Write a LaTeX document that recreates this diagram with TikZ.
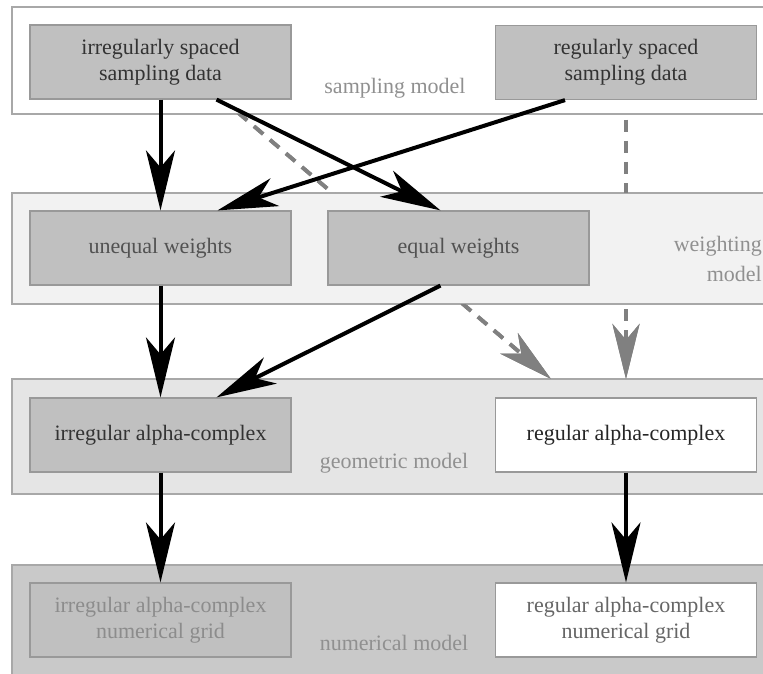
\documentclass[tikz,border=0pt]{standalone}
\usepackage{fontspec}
\setmainfont{Liberation Serif}
\usetikzlibrary{arrows.meta}
\definecolor{boxfill}{HTML}{C0C0C0}
\definecolor{boxline}{HTML}{999999}
\definecolor{grpline}{HTML}{A8A8A8}
\definecolor{lblgray}{HTML}{909090}
\definecolor{dashgray}{HTML}{808080}
\begin{document}
\begin{tikzpicture}[x=1pt,y=-1pt,
  group/.style={draw=grpline, line width=1.2pt},
  box/.style={draw=boxline, line width=1.2pt, minimum width=261pt, minimum height=74pt, inner sep=0pt, align=center, font=\fontsize{22}{26}\selectfont},
  graybox/.style={box, fill=boxfill},
  whitebox/.style={box, fill=white},
  grplabel/.style={text=lblgray, font=\fontsize{22}{30}\selectfont, inner sep=0pt},
  solidarrow/.style={line width=4pt, black, -{Stealth[length=60pt, width=29pt, inset=17pt]}},
  dasharrow/.style={line width=3.8pt, dashgray, dash pattern=on 12pt off 9pt, -{Stealth[length=55pt, width=27pt, inset=16pt]}}
]
\useasboundingbox (0,0) rectangle (763,674);
\fill[white] (0,0) rectangle (763,674);

% dashed arrows (behind group panels)
\coordinate (d1s) at (222,99);
\coordinate (d1e) at (551,379);
\coordinate (d2s) at (626,99);
\coordinate (d2e) at (626,379);
\draw[dasharrow] (d1s) -- (d1e);
\draw[dasharrow] (d2s) -- (d2e);

% group panels
\path[group, fill=white] (12,7) rectangle (780,114);
\path[group, fill=black!5] (12,193) rectangle (780,304);
\path[group, fill=black!10] (12,379) rectangle (780,494);
\path[group, fill=black!21] (12,565) rectangle (780,690);

% visible dashed parts between the panels
\begin{scope}
\clip (0,114.6) rectangle (763,192.4);
\draw[dasharrow, -] (d1s) -- (d1e);
\draw[dasharrow, -] (d2s) -- (d2e);
\end{scope}
\begin{scope}
\clip (0,304.6) rectangle (763,378.4);
\draw[dasharrow] (d1s) -- (d1e);
\draw[dasharrow] (d2s) -- (d2e);
\end{scope}

% group labels
\node[grplabel] (lsm) at (395,88) {sampling model};
\node[grplabel, anchor=east, align=right] (lwm) at (762,259) {weighting\\model};
\node[grplabel] (lgm) at (394,463) {geometric model};
\node[grplabel] (lnm) at (394,643) {numerical model};

% nodes
\node[graybox, text=black!80] (irs) at (160.5,62) {irregularly spaced\\sampling data};
\node[graybox, text=black!80] (rs) at (626,62.5) {regularly spaced\\sampling data};
\node[graybox, text=black!68] (uw) at (160.5,248) {unequal weights};
\node[graybox, text=black!68] (ew) at (458.5,248) {equal weights};
\node[graybox, text=black!80] (ia) at (160.5,435) {irregular alpha-complex};
\node[whitebox, text=black!85] (ra) at (626,435) {regular alpha-complex};
\node[graybox, text=black!45] (ian) at (160.5,620) {irregular alpha-complex\\numerical grid};
\node[whitebox, text=black!60] (ran) at (626,620) {regular alpha-complex\\numerical grid};

% solid arrows
\draw[solidarrow] (irs.south) -- (uw.north);
\draw[solidarrow] ([xshift=56pt]irs.south) -- ([xshift=-18pt]ew.north);
\draw[solidarrow] ([xshift=-61pt]rs.south) -- ([xshift=57pt]uw.north);
\draw[solidarrow] (uw.south) -- (ia.north);
\draw[solidarrow] ([xshift=-18pt]ew.south) -- ([xshift=56pt]ia.north);
\draw[solidarrow] (ia.south) -- (ian.north);
\draw[solidarrow] (ra.south) -- (ran.north);
\end{tikzpicture}
\end{document}
